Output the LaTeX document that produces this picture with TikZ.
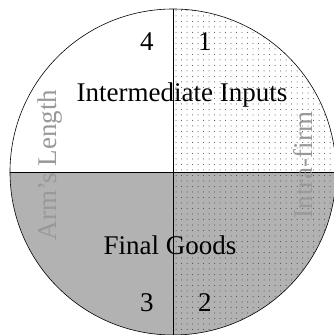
\documentclass[tikz,border=0pt]{standalone}
\usepackage{fontspec}
\setmainfont{Liberation Serif}
\usetikzlibrary{patterns.meta}

\begin{document}
\begin{tikzpicture}[
    x=1pt, y=1pt,
    label/.style={font=\fontsize{27}{31}\selectfont, inner sep=0pt},
    side/.style={font=\fontsize{27}{31}\selectfont, inner sep=0pt, text=black!40, rotate=90},
    dotted area/.style={pattern={Dots[distance=5.5pt, radius=0.5pt]}, pattern color=black!75}
]
\useasboundingbox (-173,-163) rectangle (161,172);
% quadrants
\fill[black!30] (0,0) -- (-163,0) arc (180:360:163) -- cycle;
\fill[dotted area] (0,0) -- (0,163) arc (90:-90:163) -- cycle;
\draw[line width=0.6pt] (0,0) circle (163);
\draw[line width=0.6pt] (0,163) -- (0,-163);
\draw[line width=0.6pt] (-163,0) -- (163,0);
% texts
\node[label] (inputs) at (9,77) {Intermediate Inputs};
\node[label] (goods) at (-3,-73) {Final Goods};
\node[label] (n4) at (-26,130) {4};
\node[label] (n1) at (32,130) {1};
\node[label] (n3) at (-26,-131) {3};
\node[label] (n2) at (32,-131) {2};
\node[side] (arm) at (-123,7) {Arm's Length};
\node[side] (intra) at (130,7) {Intra-firm};
\end{tikzpicture}
\end{document}
